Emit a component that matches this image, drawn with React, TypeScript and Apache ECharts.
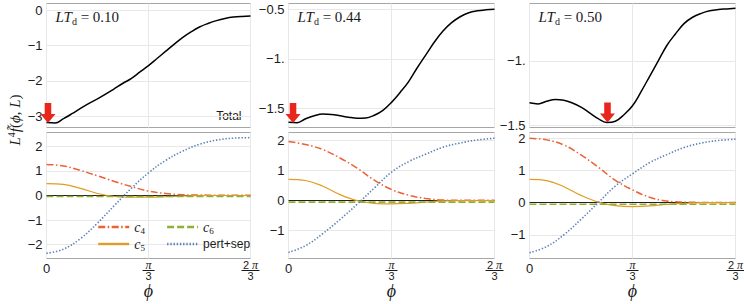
import React, { useEffect, useRef } from "react";
import * as echarts from "echarts";

const SANS = "'Liberation Sans', Arial, sans-serif";
const SERIF = "'Liberation Serif', 'Times New Roman', serif";

// phi grids (radians)
const phiFine = [0, 0.0873, 0.1745, 0.2618, 0.3491, 0.4363, 0.5236, 0.6109, 0.6981, 0.7854, 0.8727, 0.9599, 1.0472, 1.1345, 1.2217, 1.309, 1.3963, 1.4835, 1.5708, 1.6581, 1.7453, 1.8326, 1.9199, 2.0071, 2.0944];
const phiCoarse = [0, 0.1745, 0.3491, 0.5236, 0.6981, 0.8727, 1.0472, 1.2217, 1.3963, 1.5708, 1.7453, 1.9199, 2.0944];

const panelLTd = ["0.10", "0.44", "0.50"];

// Total (top panels)
const total010 = [-3.18, -3.19, -3.07, -2.93, -2.78, -2.64, -2.51, -2.37, -2.22, -2.07, -1.93, -1.75, -1.57, -1.37, -1.17, -0.97, -0.78, -0.62, -0.48, -0.38, -0.3, -0.24, -0.2, -0.18, -0.17];
const total044 = [-1.64, -1.645, -1.605, -1.575, -1.558, -1.562, -1.575, -1.59, -1.6, -1.598, -1.57, -1.52, -1.44, -1.34, -1.23, -1.09, -0.96, -0.83, -0.72, -0.635, -0.575, -0.535, -0.515, -0.505, -0.5];
const total050 = [-1.327, -1.335, -1.315, -1.3, -1.306, -1.328, -1.36, -1.405, -1.45, -1.48, -1.47, -1.42, -1.35, -1.24, -1.12, -1.0, -0.88, -0.79, -0.71, -0.66, -0.63, -0.61, -0.6, -0.595, -0.59];

// Components (bottom panels)
const c4_010 = [1.26, 1.2, 1.02, 0.8, 0.57, 0.36, 0.18, 0.08, 0.03, 0.02, 0.01, 0.01, 0.01];
const c5_010 = [0.48, 0.45, 0.29, 0.08, -0.04, -0.07, -0.07, -0.05, -0.02, 0, 0, 0, 0];
const c6_010 = [-0.04, -0.04, -0.04, -0.04, -0.04, -0.04, -0.04, -0.04, -0.04, -0.04, -0.04, -0.04, -0.04];
const pert_010 = [-2.35, -2.18, -1.75, -1.12, -0.4, 0.3, 0.92, 1.42, 1.8, 2.08, 2.25, 2.33, 2.35];

const c4_044 = [1.97, 1.87, 1.7, 1.42, 1.08, 0.68, 0.37, 0.18, 0.07, 0.02, 0.01, 0.01, 0.01];
const c5_044 = [0.71, 0.67, 0.48, 0.2, 0.0, -0.09, -0.11, -0.09, -0.05, -0.01, 0, 0, 0];
const c6_044 = [-0.05, -0.05, -0.05, -0.05, -0.05, -0.05, -0.05, -0.05, -0.05, -0.05, -0.05, -0.05, -0.05];
const pert_044 = [-1.73, -1.5, -1.1, -0.63, -0.12, 0.42, 0.95, 1.3, 1.55, 1.78, 1.92, 2.02, 2.08];

const c4_050 = [2.01, 1.96, 1.8, 1.49, 1.11, 0.7, 0.4, 0.17, 0.05, 0.02, 0.01, 0.01, 0.01];
const c5_050 = [0.73, 0.69, 0.5, 0.23, 0.02, -0.09, -0.12, -0.1, -0.05, -0.02, 0, 0, 0];
const c6_050 = [-0.05, -0.05, -0.05, -0.05, -0.05, -0.05, -0.05, -0.05, -0.05, -0.05, -0.05, -0.05, -0.05];
const pert_050 = [-1.56, -1.37, -1.0, -0.52, 0.0, 0.52, 0.9, 1.25, 1.5, 1.72, 1.86, 1.94, 1.98];

const totals = [total010, total044, total050];
const comps = [
  [c4_010, c5_010, c6_010, pert_010],
  [c4_044, c5_044, c6_044, pert_044],
  [c4_050, c5_050, c6_050, pert_050],
];
const compNames = ["c4", "c5", "c6", "pert+sep"];

// arrows marking the minimum
const arrowPhi = [0.015, 0.046, 0.793];
const arrowVal = [-3.19, -1.648, -1.48];

// ticks
const xTicks = [0, Math.PI / 3, (2 * Math.PI) / 3];
const xTickLabels = ["0", "π/3", "2π/3"];
const topYTicks = [[0, -1, -2, -3], [-0.5, -1, -1.5], [-1, -1.5]];
const topYLabels = [["0", "−1", "−2", "−3"], ["−0.5", "−1.", "−1.5"], ["−1.", "−1.5"]];
const botYTicks = [[-2, -1, 0, 1, 2], [-1, 0, 1, 2], [-1, 0, 1, 2]];
const botYLabels = [["−2", "−1", "0", "1", "2"], ["−1", "0", "1", "2"], ["−1", "0", "1", "2"]];
const topRanges = [[-3.32, 0.184], [-1.694, -0.441], [-1.519, -0.553]];
const botRanges = [[-2.56, 2.56], [-1.93, 2.27], [-1.74, 2.19]];

// layout
const LEFTS = [46.5, 288.5, 529.5];
const WIDTHS = [204, 206, 206];
const TOP_T = 3.5, TOP_H = 124, BOT_T = 132.5, BOT_H = 126;

const FRAME = "#a6a6a6";
const GRIDC = "#e8e8e8";
const TXT = "#1a1a1a";

const compStyles: any = {
  c4: { color: "#EB6235", width: 1.5, type: [7, 2.5, 1.5, 2.5] },
  c5: { color: "#E19C24", width: 1.2, type: "solid" },
  c6: { color: "#8FB032", width: 1.6, type: [7, 3] },
  "pert+sep": { color: "#5E81B5", width: 1.6, type: [1.4, 1.8] },
};

const arrowPath = "path://M4.5,0 L11.5,0 L11.5,11 L16,11 L8,20 L0,11 L4.5,11 Z";

function fracRich(label: string) {
  if (label === "0") return "{z|0}";
  if (label === "π/3") return "{n|π}\n{d|3}";
  return "{t|2 }{n|π}\n{d|3}";
}

function lookup(ticks: number[], labels: string[], v: number) {
  for (let i = 0; i < ticks.length; i++) if (Math.abs(ticks[i] - v) < 1e-6) return labels[i];
  return "";
}

const legendRich: any = {
  c4: "{i|c}{s|4}",
  c5: "{i|c}{s|5}",
  c6: "{i|c}{s|6}",
  "pert+sep": "{p|pert+sep}",
};

function buildOption() {
  const grid: any[] = [];
  const xAxis: any[] = [];
  const yAxis: any[] = [];
  const series: any[] = [];
  const graphic: any[] = [];

  for (let p = 0; p < 3; p++) {
    for (let half = 0; half < 2; half++) {
      const isBot = half === 1;
      const gi = p * 2 + half;
      grid.push({
        left: LEFTS[p],
        top: isBot ? BOT_T : TOP_T,
        width: WIDTHS[p],
        height: isBot ? BOT_H : TOP_H,
        show: true,
        borderColor: FRAME,
        borderWidth: 1,
        backgroundColor: "transparent",
        containLabel: false,
        outerBoundsMode: "none",
      });
      xAxis.push({
        type: "value",
        gridIndex: gi,
        min: 0,
        max: (2 * Math.PI) / 3,
        axisLine: { show: false },
        axisTick: { show: false, customValues: xTicks },
        splitLine: { show: true, lineStyle: { color: GRIDC, width: 1 } },
        axisLabel: isBot
          ? {
              show: true,
              customValues: xTicks,
              margin: 0,
              color: TXT,
              formatter: (v: number) => fracRich(lookup(xTicks, xTickLabels, v)),
              rich: {
                z: { fontSize: 13, fontFamily: SANS, lineHeight: 19, color: TXT },
                n: { fontSize: 12, fontFamily: SERIF, fontStyle: "italic", lineHeight: 12, color: TXT },
                t: { fontSize: 11, fontFamily: SANS, lineHeight: 12, color: TXT },
                d: { fontSize: 11, fontFamily: SANS, lineHeight: 11, color: TXT },
              },
            }
          : { show: false, customValues: xTicks },
        name: isBot ? "ϕ" : "",
        nameLocation: "middle",
        nameGap: 23,
        nameTextStyle: { fontFamily: SERIF, fontStyle: "italic", fontSize: 18, color: TXT },
      });
      const ticks = isBot ? botYTicks[p] : topYTicks[p];
      const labels = isBot ? botYLabels[p] : topYLabels[p];
      const range = isBot ? botRanges[p] : topRanges[p];
      yAxis.push({
        type: "value",
        gridIndex: gi,
        min: range[0],
        max: range[1],
        axisLine: { show: false },
        axisTick: { show: false, customValues: ticks },
        splitLine: { show: true, lineStyle: { color: GRIDC, width: 1 } },
        axisLabel: {
          customValues: ticks,
          margin: 4,
          fontSize: 13,
          lineHeight: 13,
          fontFamily: SANS,
          color: TXT,
          formatter: (v: number) => lookup(ticks, labels, v),
        },
      });
    }

    // Total curve
    series.push({
      type: "line",
      name: "Total",
      xAxisIndex: p * 2,
      yAxisIndex: p * 2,
      data: phiFine.map((x, i) => [x, totals[p][i]]),
      smooth: 0.4,
      symbol: "none",
      lineStyle: { color: "#000", width: 1.5 },
      z: 3,
      markPoint: {
        silent: true,
        symbol: arrowPath,
        symbolSize: [15, 20],
        symbolOffset: [0, -10],
        itemStyle: { color: "#E8261B" },
        label: { show: false },
        data: [{ coord: [arrowPhi[p], arrowVal[p]] }],
      },
    });

    // components
    for (let c = 0; c < 4; c++) {
      const nm = compNames[c];
      const s: any = {
        type: "line",
        name: nm,
        xAxisIndex: p * 2 + 1,
        yAxisIndex: p * 2 + 1,
        data: phiCoarse.map((x, i) => [x, comps[p][c][i]]),
        smooth: 0.4,
        symbol: "none",
        lineStyle: { ...compStyles[nm] },
        itemStyle: { color: compStyles[nm].color },
        z: 3,
      };
      if (nm === "c6") {
        s.markLine = {
          silent: true,
          symbol: "none",
          label: { show: false },
          lineStyle: { color: "#222", width: 1, type: "solid" },
          data: [{ yAxis: 0 }],
          z: 2,
        };
      }
      if (nm === "c5") {
        // fraction bars of the pi/3 and 2pi/3 tick labels, placed from the axis values
        s.markPoint = {
          silent: true,
          symbol: "rect",
          symbolOffset: [0, 12],
          itemStyle: { color: TXT },
          label: { show: false },
          data: [
            { coord: [xTicks[1], botRanges[p][0]], symbolSize: [12, 1] },
            { coord: [xTicks[2], botRanges[p][0]], symbolSize: [18, 1] },
          ],
        };
      }
      series.push(s);
    }

    // panel label
    graphic.push({
      type: "text",
      x: LEFTS[p] + 9,
      y: 17,
      style: {
        text: `{i|LT}{sub|d}{r| = ${panelLTd[p]}}`,
        align: "left",
        textAlign: "left",
        verticalAlign: "middle",
        textVerticalAlign: "middle",
        fill: TXT,
        rich: {
          i: { fontFamily: SERIF, fontStyle: "italic", fontSize: 15, lineHeight: 18, fill: TXT, color: TXT },
          sub: { fontFamily: SERIF, fontSize: 10, lineHeight: 18, verticalAlign: "bottom", fill: TXT, color: TXT },
          r: { fontFamily: SERIF, fontSize: 15, lineHeight: 18, fill: TXT, color: TXT },
        },
      },
    });
  }

  // "Total" label
  graphic.push({
    type: "text",
    x: LEFTS[0] + WIDTHS[0] - 9,
    y: 116,
    style: {
      text: "Total",
      align: "right",
      textAlign: "right",
      verticalAlign: "middle",
      textVerticalAlign: "middle",
      fontFamily: SANS,
      fontSize: 12,
      fill: TXT,
    },
  });

  // y title
  graphic.push({
    type: "text",
    x: 15,
    y: 120,
    rotation: Math.PI / 2,
    style: {
      text: "{i|L}{sup|4}{i|f\u0303}{r|(}{i|ϕ}{r|, }{i|L}{r|)}",
      align: "center",
      textAlign: "center",
      verticalAlign: "middle",
      textVerticalAlign: "middle",
      fill: TXT,
      rich: {
        i: { fontFamily: SERIF, fontStyle: "italic", fontSize: 15, lineHeight: 18, fill: TXT, color: TXT },
        r: { fontFamily: SERIF, fontSize: 15, lineHeight: 18, fill: TXT, color: TXT },
        sup: { fontFamily: SERIF, fontSize: 10, lineHeight: 18, verticalAlign: "top", fill: TXT, color: TXT },
      },
    },
  });

  const legendCommon = {
    orient: "horizontal",
    itemWidth: 31,
    itemHeight: 14,
    itemGap: 21,
    padding: 0,
    selectedMode: false,
    formatter: (name: string) => legendRich[name],
    lineStyle: { width: 2.4 },
    itemStyle: { opacity: 0 },
    textStyle: {
      color: TXT,
      rich: {
        i: { fontFamily: SERIF, fontStyle: "italic", fontSize: 14, lineHeight: 16, color: TXT },
        s: { fontFamily: SERIF, fontSize: 9, lineHeight: 16, verticalAlign: "bottom", color: TXT },
        p: { fontFamily: SANS, fontSize: 12, lineHeight: 16, color: TXT },
      },
    },
  };

  return {
    animation: false,
    grid,
    xAxis,
    yAxis,
    series,
    graphic,
    legend: [
      { ...legendCommon, data: ["c4", "c6"], left: 97, top: 220 },
      { ...legendCommon, data: ["c5", "pert+sep"], left: 97, top: 237 },
    ],
  };
}

export default function App() {
  const ref = useRef<HTMLDivElement>(null);
  useEffect(() => {
    if (!ref.current) return;
    const chart = echarts.init(ref.current, undefined, { renderer: "svg" });
    chart.setOption(buildOption() as any);
    return () => chart.dispose();
  }, []);
  return (
    <div
      ref={ref}
      style={{ position: "absolute", left: 0, top: 0, width: 744, height: 304, background: "#fff" }}
    />
  );
}
